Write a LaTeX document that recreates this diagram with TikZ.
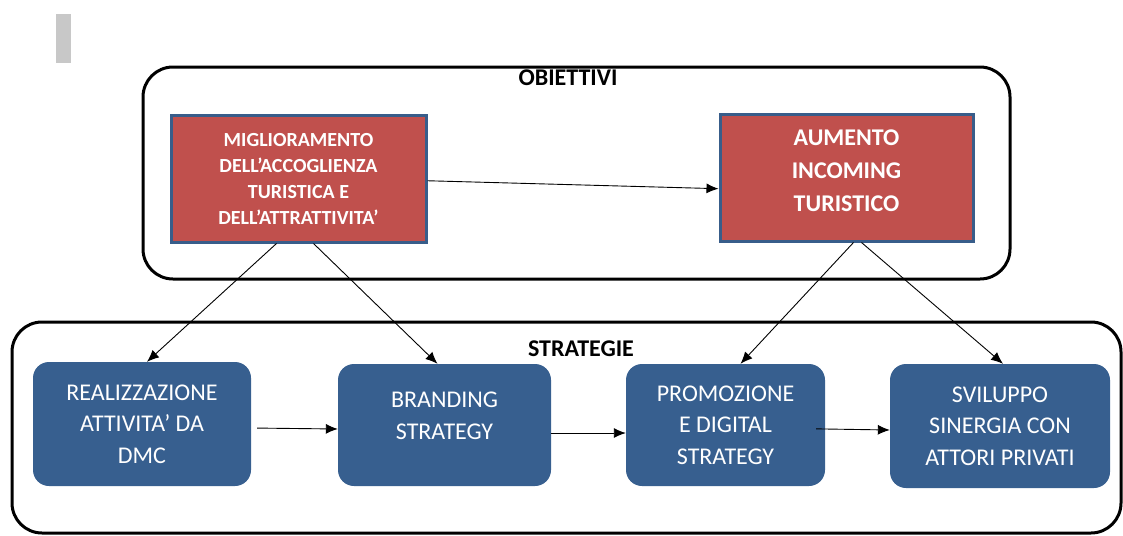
\documentclass[tikz,border=0pt]{standalone}
\usepackage{fontspec}
\setmainfont{Carlito}
\usetikzlibrary{arrows.meta}

\definecolor{goalred}{HTML}{C0504D}
\definecolor{goalline}{HTML}{385D8A}
\definecolor{stratblue}{HTML}{375F8F}
\definecolor{markgray}{HTML}{C8C8C8}

\tikzset{
  frame/.style={line width=3pt, rounded corners=30pt},
  goal/.style={draw=goalline, line width=3pt, fill=goalred, text=white,
    align=center, font=\bfseries},
  strat/.style={fill=stratblue, rounded corners=16pt, text=white,
    align=center, font=\fontsize{24}{31.5}\selectfont},
  link/.style={line width=0.9pt, -{Latex[length=12pt, width=10pt]}},
  title/.style={font=\fontsize{24}{28}\selectfont\bfseries}
}

\begin{document}
\begin{tikzpicture}[x=1pt, y=-1pt]
    \useasboundingbox (0,0) rectangle (1123,535);

    % Grey mark in the corner
    \fill[markgray] (56,14) rectangle (71,63);

    % Frames
    \draw[frame] (143,67) rectangle (1010,279);
    \draw[frame] (12,322) rectangle (1121,533);
    \node[title] (objtitle) at (568,78) {OBIETTIVI};
    \node[title] (strtitle) at (581,349) {STRATEGIE};

    % Objectives
    \node[goal, minimum width=255, minimum height=127,
      font=\fontsize{20}{26}\selectfont\bfseries] (m1) at (298.5,178.5)
      {MIGLIORAMENTO\\DELL’ACCOGLIENZA\\TURISTICA E\\DELL’ATTRATTIVITA’};
    \node[goal, minimum width=253, minimum height=127,
      font=\fontsize{24}{33}\selectfont\bfseries] (m2) at (846.5,177.5)
      {AUMENTO\\INCOMING\\TURISTICO\\[-19pt]~};

    % Strategies
    \node[strat, minimum width=218, minimum height=124] (b1) at (142,424)
      {REALIZZAZIONE\\ATTIVITA’ DA\\DMC};
    \node[strat, minimum width=213, minimum height=122] (b2) at (444.5,425)
      {BRANDING\\STRATEGY\\[-13pt]~};
    \node[strat, minimum width=199, minimum height=122] (b3) at (725.5,425)
      {PROMOZIONE\\E DIGITAL\\STRATEGY};
    \node[strat, minimum width=220, minimum height=124] (b4) at (1000,426)
      {SVILUPPO\\SINERGIA CON\\ATTORI PRIVATI};

    % Links between objectives
    \draw[link] (m1.-1) -- (m2.185);

    % Objectives to strategies
    \draw[link] ([xshift=-22pt]m1.south) -- ([xshift=5pt]b1.north);
    \draw[link] ([xshift=15pt]m1.south) -- ([xshift=-7pt]b2.north);
    \draw[link] ([xshift=7pt]m2.south) -- ([xshift=15pt]b3.north);
    \draw[link] ([xshift=15pt]m2.south) -- ([xshift=3pt]b4.north);

    % Strategy chain
    \draw[link, shorten <=6pt] ([yshift=-4pt]b1.east) -- ([yshift=-4pt]b2.west);
    \draw[link] ([yshift=-8pt]b2.east) -- ([yshift=-8pt]b3.west);
    \draw[link, shorten <=-9pt] ([yshift=-4pt]b3.east) -- ([yshift=-4pt]b4.west);
\end{tikzpicture}
\end{document}
